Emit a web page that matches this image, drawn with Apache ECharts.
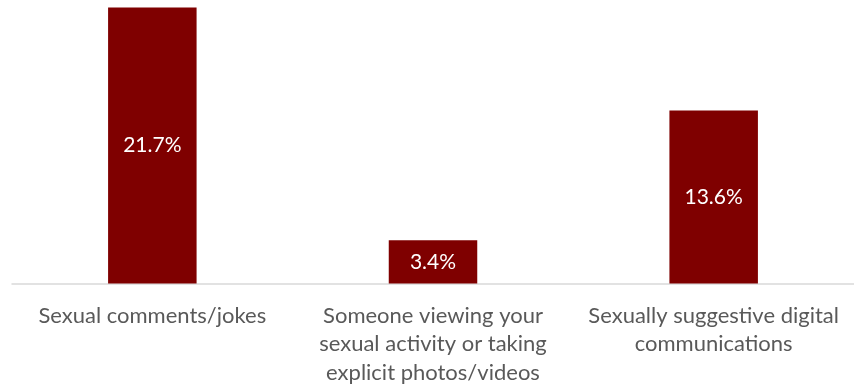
<!DOCTYPE html>
<html><head><meta charset="utf-8">
<script src="https://cdn.jsdelivr.net/npm/echarts@6/dist/echarts.min.js"></script>
<style>html,body{margin:0;padding:0;background:#fff}#c{width:854px;height:387px}</style>
</head><body><div id="c"></div>
<script>
const categories = ["Sexual comments/jokes", "Someone viewing your\nsexual activity or taking\nexplicit photos/videos", "Sexually suggestive digital\ncommunications"];
const values = [21.7, 3.4, 13.6];
const chart = echarts.init(document.getElementById('c'), null, {renderer: 'canvas'});
chart.setOption({
  animation: false,
  grid: {left: 12, right: 0, top: 3.7, bottom: 102.5, containLabel: false},
  xAxis: {
    type: 'category', data: categories,
    axisLine: {show: true, lineStyle: {color: '#d9d9d9', width: 1.5}},
    axisTick: {show: false},
    axisLabel: {color: '#595959', fontSize: 22, fontFamily: 'Lato, sans-serif', lineHeight: 28.5, margin: 18, interval: 0}
  },
  yAxis: {type: 'value', min: 0, max: 22, show: false, splitLine: {show: false}},
  series: [{
    type: 'bar', data: values, barWidth: 88.5,
    itemStyle: {color: '#7f0000'},
    label: {show: true, position: 'inside', color: '#ffffff', fontSize: 21, fontFamily: 'Lato, sans-serif', formatter: p => p.value.toFixed(1) + '%'}
  }]
});
</script></body></html>
